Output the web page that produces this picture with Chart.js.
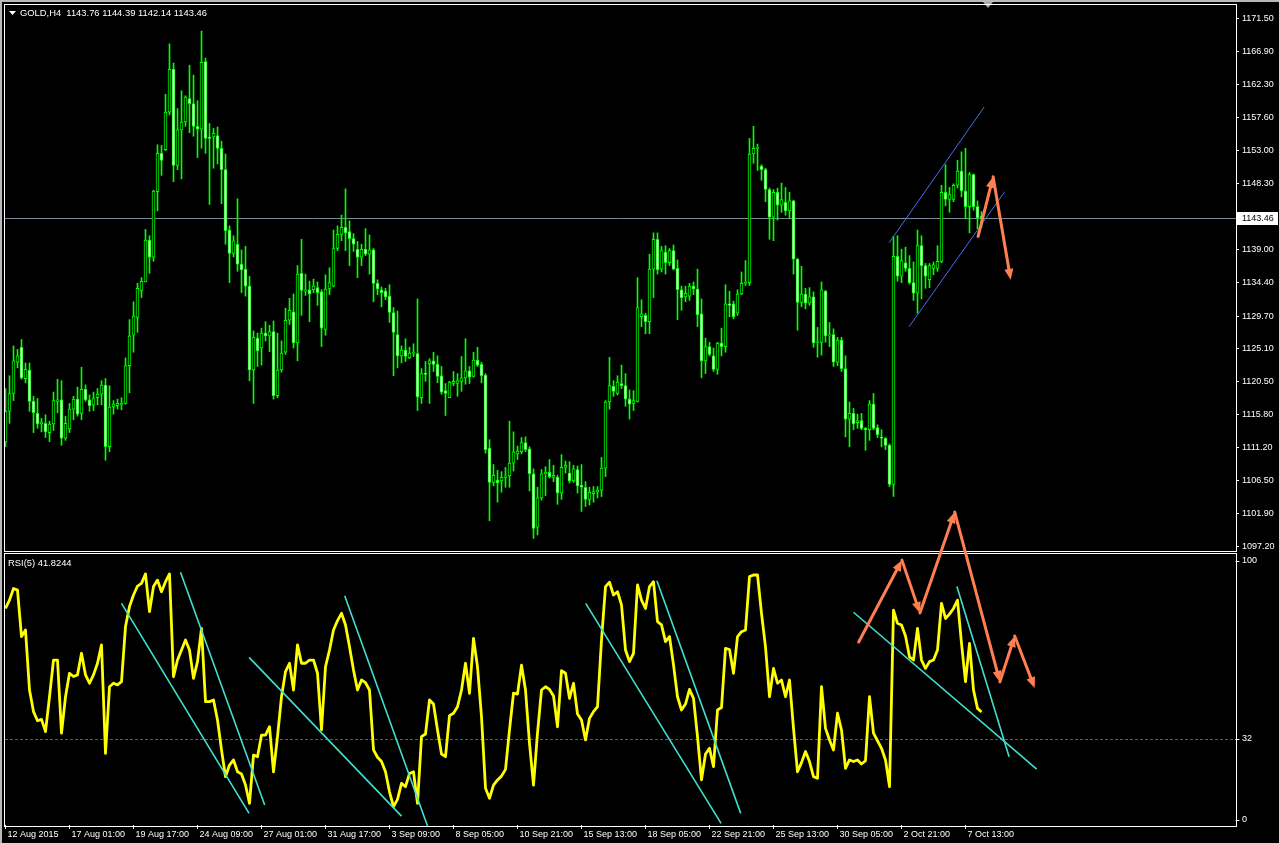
<!DOCTYPE html>
<html>
<head>
<meta charset="utf-8">
<script src="https://cdn.jsdelivr.net/npm/chart.js@4.4.1/dist/chart.umd.min.js"></script>
<style>
  html, body { margin: 0; padding: 0; background: #000; overflow: hidden; }
  #wrap { position: relative; width: 1279px; height: 843px; }
</style>
</head>
<body>
<div id="wrap"><canvas id="chart" width="1279" height="843"></canvas></div>
<script>
// --- DATOS: GOLD H4, 245 velas ---
const openP = [
  1112.0,1116.3,1118.8,1123.2,1125.3,1120.9,1122.1,1117.7,1116.0,1114.5,
  1114.6,1113.3,1114.5,1117.7,1117.9,1112.5,1113.8,1116.6,1118.0,1116.0,
  1119.4,1117.9,1117.2,1118.2,1118.7,1120.0,1111.3,1116.9,1117.1,1117.2,
  1117.4,1122.7,1127.0,1129.5,1133.3,1134.5,1140.4,1138.0,1147.2,1152.6,
  1153.1,1158.4,1164.4,1150.9,1155.9,1157.0,1160.3,1159.6,1156.4,1156.0,
  1165.5,1154.8,1154.9,1155.1,1153.3,1150.3,1141.8,1138.5,1139.8,1137.0,
  1136.3,1133.9,1122.1,1126.6,1125.2,1127.3,1126.9,1127.5,1118.5,1122.1,
  1124.6,1129.1,1130.3,1125.9,1135.7,1133.2,1133.4,1133.4,1133.7,1133.1,
  1127.8,1133.5,1133.9,1139.2,1141.2,1142.2,1141.6,1140.6,1139.1,1138.0,
  1139.1,1138.4,1139.0,1134.3,1133.4,1133.2,1132.5,1130.2,1127.1,1124.1,
  1124.9,1123.8,1124.5,1124.4,1118.2,1121.6,1123.0,1123.4,1122.9,1121.3,
  1119.2,1118.2,1120.2,1120.2,1120.5,1121.0,1122.0,1121.2,1123.5,1122.9,
  1121.4,1111.1,1106.3,1106.6,1106.5,1107.0,1107.2,1109.0,1110.3,1110.6,
  1111.9,1111.0,1107.5,1100.0,1104.1,1107.5,1107.7,1107.0,1107.0,1104.8,
  1108.4,1107.6,1106.5,1108.1,1105.9,1105.6,1103.9,1104.7,1104.9,1105.2,
  1108.3,1117.6,1119.8,1118.8,1120.2,1119.9,1118.0,1117.4,1117.7,1129.6,
  1129.8,1128.9,1136.3,1140.5,1136.3,1138.7,1137.2,1138.9,1136.4,1133.4,
  1132.4,1132.5,1133.9,1133.5,1130.0,1123.4,1125.4,1124.1,1122.2,1125.9,
  1125.4,1131.4,1131.4,1130.1,1132.8,1134.3,1134.4,1152.5,1153.3,1150.8,
  1150.3,1147.5,1143.6,1147.1,1145.3,1145.7,1144.5,1145.9,1137.7,1131.6,
  1132.8,1131.5,1132.4,1125.9,1126.0,1133.2,1126.9,1127.1,1123.2,1126.3,
  1122.3,1115.2,1116.0,1114.7,1115.0,1113.9,1113.7,1117.3,1114.0,1112.6,
  1112.5,1111.5,1106.0,1138.1,1135.3,1137.2,1136.4,1134.4,1132.9,1139.6,
  1136.8,1134.8,1136.4,1136.4,1137.4,1147.1,1146.1,1146.1,1148.1,1150.1,
  1147.3,1145.1,1149.6,1145.1,1143.76
];
const highP = [
  1119.5,1121.3,1125.5,1125.0,1126.4,1123.1,1123.1,1118.4,1118.1,1115.3,
  1115.8,1114.9,1119.0,1120.8,1120.6,1115.6,1117.4,1118.4,1119.7,1122.5,
  1120.0,1118.6,1119.0,1119.5,1120.6,1120.9,1119.9,1117.8,1118.0,1118.2,
  1123.8,1129.2,1131.7,1134.3,1135.1,1141.9,1141.0,1147.4,1153.8,1153.7,
  1160.9,1168.0,1165.3,1158.9,1161.4,1160.7,1165.0,1163.6,1160.0,1169.8,
  1166.0,1156.8,1156.1,1156.3,1154.3,1152.5,1142.4,1141.0,1146.2,1139.0,
  1139.5,1135.3,1127.6,1127.3,1128.0,1128.9,1128.4,1129.0,1127.3,1126.2,
  1130.8,1132.2,1132.8,1136.8,1140.5,1135.6,1134.6,1134.9,1134.5,1133.4,
  1135.5,1136.5,1141.8,1142.4,1143.9,1147.6,1143.1,1141.3,1140.2,1139.8,
  1142.0,1141.1,1139.2,1134.8,1133.8,1133.6,1134.1,1130.9,1130.4,1125.5,
  1126.5,1125.3,1125.8,1132.1,1122.3,1123.3,1123.7,1124.6,1124.1,1122.6,
  1120.2,1120.5,1121.9,1121.6,1124.0,1126.5,1122.6,1124.6,1125.3,1123.2,
  1121.6,1112.3,1108.8,1108.0,1107.8,1108.4,1114.9,1113.4,1111.4,1112.6,
  1112.7,1111.3,1108.2,1105.6,1108.1,1108.5,1109.5,1108.7,1107.3,1110.2,
  1109.3,1109.2,1108.7,1108.6,1108.8,1106.4,1105.6,1105.7,1105.7,1109.8,
  1117.8,1123.9,1120.6,1121.3,1122.8,1121.6,1119.3,1119.2,1135.1,1132.0,
  1130.1,1138.4,1141.4,1141.4,1139.5,1139.6,1139.2,1139.7,1137.6,1133.9,
  1133.9,1134.3,1134.5,1136.3,1132.1,1126.6,1126.0,1125.2,1126.0,1128.0,
  1134.1,1133.2,1131.8,1133.4,1135.9,1137.5,1154.7,1156.4,1153.9,1151.0,
  1150.5,1147.7,1147.5,1147.7,1148.4,1147.8,1147.1,1146.0,1137.8,1136.7,
  1133.6,1133.7,1133.1,1128.1,1134.5,1133.3,1128.8,1127.9,1126.7,1126.7,
  1124.1,1117.6,1116.7,1115.9,1116.0,1114.0,1117.8,1118.8,1114.4,1113.7,
  1112.6,1111.7,1140.9,1141.0,1139.1,1139.4,1138.2,1137.3,1141.8,1141.0,
  1137.1,1137.1,1137.3,1139.6,1148.1,1151.0,1147.8,1148.3,1151.6,1152.8,
  1153.3,1149.9,1149.7,1145.9,1144.39
];
const lowP = [
  1111.3,1114.6,1117.8,1122.4,1120.8,1120.3,1116.3,1113.3,1113.9,1113.4,
  1112.6,1112.0,1113.6,1116.1,1111.5,1112.2,1113.3,1115.1,1115.6,1115.1,
  1117.7,1116.3,1116.4,1117.2,1117.2,1109.4,1110.6,1115.9,1116.6,1116.5,
  1117.3,1118.9,1124.6,1127.4,1132.3,1134.5,1135.7,1137.4,1144.5,1149.5,
  1153.0,1158.0,1148.6,1150.3,1149.0,1156.4,1155.5,1155.0,1152.0,1153.3,
  1152.6,1145.4,1150.5,1151.1,1145.5,1139.8,1134.4,1138.0,1136.0,1133.0,
  1132.5,1120.6,1117.4,1122.6,1122.8,1126.2,1124.7,1118.0,1118.2,1121.8,
  1124.3,1128.5,1125.2,1123.4,1129.8,1132.6,1128.9,1133.0,1131.2,1125.4,
  1127.0,1132.7,1133.8,1138.9,1140.3,1138.9,1136.8,1138.8,1135.1,1136.8,
  1138.2,1135.6,1131.7,1132.7,1131.0,1132.0,1128.8,1121.3,1122.4,1123.1,
  1123.3,1123.7,1124.0,1116.4,1117.4,1120.5,1117.4,1121.9,1120.3,1118.7,
  1115.7,1118.2,1119.9,1118.4,1119.1,1120.1,1120.2,1121.1,1122.6,1120.3,
  1110.4,1100.9,1105.8,1103.5,1104.9,1105.6,1105.6,1107.9,1109.5,1110.3,
  1110.6,1105.1,1098.4,1098.9,1103.8,1104.4,1106.9,1106.4,1103.2,1103.9,
  1107.6,1106.2,1106.3,1104.8,1102.2,1102.9,1103.1,1103.5,1104.1,1104.3,
  1107.1,1116.6,1118.4,1118.6,1119.5,1117.0,1115.2,1116.4,1117.6,1128.2,
  1127.2,1127.2,1132.3,1135.6,1135.9,1135.6,1136.8,1136.2,1129.2,1130.5,
  1131.7,1131.9,1132.7,1128.2,1121.0,1121.6,1124.1,1121.9,1121.5,1124.1,
  1124.6,1129.6,1129.3,1129.8,1132.7,1134.0,1134.0,1151.2,1150.2,1148.8,
  1145.8,1140.5,1140.3,1143.2,1144.3,1143.9,1143.4,1135.6,1127.7,1131.0,
  1130.7,1131.2,1125.3,1123.9,1124.2,1126.0,1125.4,1122.6,1122.7,1121.9,
  1112.7,1111.3,1113.7,1113.9,1113.7,1110.8,1112.2,1113.7,1112.6,1111.3,
  1110.9,1105.7,1104.3,1134.6,1134.4,1136.0,1134.2,1131.9,1130.1,1132.1,
  1133.6,1133.7,1135.5,1136.0,1137.2,1145.2,1144.3,1145.8,1147.7,1146.5,
  1143.4,1141.4,1144.6,1142.0,1142.14
];
const closeP = [
  1116.3,1118.8,1123.4,1124.1,1121.0,1122.2,1117.7,1116.1,1114.5,1114.8,
  1113.4,1114.5,1117.8,1117.9,1112.5,1114.6,1116.6,1118.0,1115.9,1119.4,
  1117.9,1117.1,1118.1,1118.7,1120.0,1111.3,1116.9,1117.3,1117.4,1117.4,
  1122.7,1126.9,1129.7,1133.6,1134.6,1140.4,1138.0,1147.3,1152.6,1151.6,
  1158.4,1164.4,1150.9,1155.9,1157.0,1160.5,1159.6,1156.4,1156.0,1165.4,
  1154.7,1154.7,1155.4,1153.3,1150.3,1141.7,1138.5,1140.3,1137.0,1136.2,
  1133.9,1122.1,1126.7,1124.8,1127.3,1126.9,1127.5,1118.5,1122.1,1124.5,
  1129.1,1130.5,1125.9,1135.6,1133.3,1133.4,1132.8,1133.9,1133.0,1128.0,
  1133.5,1134.4,1139.2,1141.2,1142.2,1141.4,1140.6,1139.8,1138.0,1139.1,
  1138.4,1139.0,1134.3,1133.5,1133.0,1132.4,1130.2,1127.4,1124.1,1124.9,
  1124.0,1124.5,1124.6,1118.3,1121.6,1121.5,1123.4,1122.9,1121.2,1119.0,
  1118.8,1120.4,1120.5,1120.6,1121.0,1122.0,1121.1,1123.5,1122.8,1121.3,
  1110.9,1106.3,1107.3,1106.2,1107.0,1107.2,1109.0,1110.6,1110.7,1111.9,
  1110.9,1107.5,1099.8,1104.1,1107.5,1107.7,1107.1,1107.3,1104.8,1108.4,
  1108.7,1106.5,1108.2,1105.8,1105.6,1103.9,1104.9,1105.0,1105.2,1108.3,
  1117.6,1119.9,1119.1,1120.4,1119.9,1118.0,1117.3,1117.8,1130.9,1130.0,
  1128.9,1136.3,1140.5,1136.2,1138.9,1137.2,1138.9,1136.3,1133.4,1132.3,
  1132.9,1133.9,1133.5,1129.9,1123.4,1125.4,1124.3,1122.2,1125.9,1125.4,
  1131.4,1131.2,1129.6,1132.8,1134.3,1134.4,1152.5,1153.3,1153.4,1150.3,
  1147.5,1143.6,1147.1,1145.3,1146.1,1144.5,1145.9,1137.7,1131.6,1132.8,
  1131.5,1132.4,1125.9,1126.0,1133.4,1126.9,1127.0,1123.2,1126.3,1122.3,
  1115.2,1116.0,1114.5,1115.0,1113.9,1113.7,1117.3,1113.9,1113.0,1112.5,
  1111.5,1106.0,1138.1,1135.3,1137.5,1136.4,1134.4,1132.9,1139.6,1136.8,
  1135.3,1136.8,1136.9,1137.4,1147.1,1146.1,1146.8,1148.1,1150.1,1147.3,
  1145.1,1149.6,1145.1,1143.5,1143.46
];
const rsi5 = [
  80.2,83.3,87.6,87.0,69.8,72.2,50.0,42.0,38.6,39.1,
  34.6,47.5,61.1,61.1,34.0,47.5,56.2,55.0,55.6,63.6,
  55.6,52.5,55.6,59.9,66.7,26.5,51.2,52.5,51.9,53.1,
  73.5,80.9,85.2,88.5,89.5,93.0,79.0,88.3,90.7,86.4,
  90.1,93.0,54.9,61.1,64.8,68.5,64.8,54.3,60.5,72.8,
  45.7,45.7,46.3,38.9,27.8,17.9,22.2,24.1,19.7,18.9,
  14.8,8.0,25.9,25.3,33.3,33.3,36.4,19.7,32.7,47.5,
  56.8,59.9,50.0,66.7,59.9,59.9,61.1,61.1,56.2,35.2,
  58.6,64.8,72.2,75.7,78.4,74.1,66.0,57.4,50.0,53.7,
  52.7,50.0,27.8,25.1,23.5,19.7,12.3,6.8,9.5,15.4,
  14.2,19.1,19.7,8.0,32.7,33.7,46.3,44.8,35.2,26.3,
  25.3,40.5,41.4,43.8,50.0,59.9,48.8,69.1,58.6,40.1,
  13.6,9.9,14.8,16.7,18.1,20.6,35.2,48.8,48.5,59.2,
  50.0,30.2,14.8,34.0,50.0,51.2,50.2,47.8,36.4,57.2,
  56.2,46.9,52.5,41.1,38.9,31.5,39.5,42.0,43.8,68.5,
  88.3,89.9,85.2,86.4,81.5,64.8,60.5,63.6,88.9,83.3,
  80.2,88.3,90.1,75.3,74.1,67.9,69.8,59.3,47.5,42.6,
  44.8,50.2,46.9,32.7,16.7,26.3,28.4,21.6,42.6,43.5,
  65.4,65.0,56.2,69.8,71.6,72.2,92.0,92.6,92.6,78.4,
  66.0,47.5,58.0,52.5,53.7,47.5,53.7,35.8,19.7,23.1,
  27.2,23.5,17.9,17.3,51.2,35.8,31.5,27.8,41.4,35.2,
  21.0,24.1,23.5,24.1,22.6,23.8,47.5,34.0,31.2,28.4,
  24.1,14.2,79.6,74.7,74.1,70.0,62.3,61.1,72.8,61.1,
  58.0,60.5,61.1,64.8,82.1,76.5,78.1,80.2,83.3,67.3,
  53.1,67.3,50.0,43.2,41.82
];

// etiquetas del eje de tiempo (cada 16 barras) y del eje de precios
const axisBars = [0, 16, 32, 48, 64, 80, 96, 112, 128, 144, 160, 176, 192, 208, 224, 240];
const axisLabels = ['12 Aug 2015', '17 Aug 01:00', '19 Aug 17:00', '24 Aug 09:00', '27 Aug 01:00',
  '31 Aug 17:00', '3 Sep 09:00', '8 Sep 05:00', '10 Sep 21:00', '15 Sep 13:00', '18 Sep 05:00',
  '22 Sep 21:00', '25 Sep 13:00', '30 Sep 05:00', '2 Oct 21:00', '7 Oct 13:00'];
const priceTicks = [1171.50, 1166.90, 1162.30, 1157.60, 1153.00, 1148.30, 1139.00, 1134.40,
  1129.70, 1125.10, 1120.50, 1115.80, 1111.20, 1106.50, 1101.90, 1097.20];
const rsiTicks = [100, 32, 0];
const lastPrice = 1143.46;
const rsiLevel = 32;

// objetos dibujados (barra, valor)
const channelLines = [
  [[220.9, 1140.0], [244.65, 1159.1]],
  [[225.9, 1128.2], [249.8, 1147.2]]
];
const priceArrows = [[243.15, 1140.9], [246.9, 1149.3], [251.3, 1134.8]];
const rsiArrows = [[213.3, 67.8], [224.1, 98.1], [228.6, 78.5], [237.3, 115.9], [248.6, 53.0], [252.3, 70.0], [257.3, 50.7]];
const rsiTrendLines = [
  [[29.0, 82.1], [60.9, 4.3]],
  [[43.75, 93.6], [64.8, 7.4]],
  [[60.9, 62.1], [99.0, 3.3]],
  [[84.8, 84.9], [105.5, -0.4]],
  [[145.05, 82.1], [178.9, 0.6]],
  [[162.85, 90.5], [183.8, 4.3]],
  [[212.0, 78.8], [257.8, 20.7]],
  [[237.85, 88.3], [250.9, 25.3]]
];

const FONT = 'Liberation Sans, Arial, sans-serif';
const LIME = '#00ff00';
const ORANGE = '#ff7f50';

function drawArrow(c, x1, y1, x2, y2) {
  const a = Math.atan2(y2 - y1, x2 - x1);
  const len = 11, half = 4.5;
  c.beginPath();
  c.moveTo(x1, y1);
  c.lineTo(x2 - 6 * Math.cos(a), y2 - 6 * Math.sin(a));
  c.stroke();
  c.beginPath();
  c.moveTo(x2, y2);
  c.lineTo(x2 - len * Math.cos(a) + half * Math.sin(a), y2 - len * Math.sin(a) - half * Math.cos(a));
  c.lineTo(x2 - len * Math.cos(a) - half * Math.sin(a), y2 - len * Math.sin(a) + half * Math.cos(a));
  c.closePath();
  c.fill();
}

// quitar el relleno que Chart.js reserva para media etiqueta
function noPad(s) {
  s.paddingTop = 0; s.paddingBottom = 0; s.paddingLeft = 0; s.paddingRight = 0;
}

const mt4Plugin = {
  id: 'mt4',
  beforeDraw(chart) {
    const c = chart.ctx;
    c.save();
    c.fillStyle = '#000';
    c.fillRect(0, 0, chart.width, chart.height);
    c.restore();
  },
  beforeDatasetsDraw(chart) {
    const c = chart.ctx, a = chart.chartArea;
    const ys = chart.scales.y, rs = chart.scales.rsi;
    c.save();
    // linea de precio actual
    const py = Math.round(ys.getPixelForValue(lastPrice)) + 0.5;
    c.strokeStyle = '#778899';
    c.lineWidth = 1;
    c.beginPath(); c.moveTo(a.left, py); c.lineTo(a.right, py); c.stroke();
    // nivel 32 del RSI
    const ly = Math.round(rs.getPixelForValue(rsiLevel)) + 0.5;
    c.strokeStyle = '#a030a0';
    c.setLineDash([3, 2]);
    c.beginPath(); c.moveTo(a.left, ly); c.lineTo(a.right, ly); c.stroke();
    c.restore();
  },
  afterDraw(chart) {
    const c = chart.ctx, a = chart.chartArea;
    const xs = chart.scales.x, ys = chart.scales.y, rs = chart.scales.rsi;
    c.save();

    // marco de ventana
    c.fillStyle = '#b8b8b8';
    c.fillRect(0, 0, chart.width, 2);
    c.fillRect(0, 0, 2, chart.height);
    c.fillStyle = '#a0a8b0';
    c.beginPath(); c.moveTo(983, 2); c.lineTo(993, 2); c.lineTo(988, 8); c.closePath(); c.fill();

    // marcos de las subventanas
    const sep = Math.round(ys.bottom);
    c.strokeStyle = '#ffffff';
    c.lineWidth = 1;
    c.strokeRect(a.left - 0.5, a.top - 0.5, a.right - a.left + 1, sep - 1 - a.top + 1);
    c.strokeRect(a.left - 0.5, sep + 1.5, a.right - a.left + 1, a.bottom - sep);

    // canal azul
    c.strokeStyle = '#4a6cf0';
    c.lineWidth = 1;
    channelLines.forEach(([p, q]) => {
      c.beginPath();
      c.moveTo(xs.getPixelForValue(p[0]), ys.getPixelForValue(p[1]));
      c.lineTo(xs.getPixelForValue(q[0]), ys.getPixelForValue(q[1]));
      c.stroke();
    });

    // lineas de tendencia RSI
    c.strokeStyle = '#40e0d0';
    c.lineWidth = 1.6;
    rsiTrendLines.forEach(([p, q]) => {
      c.beginPath();
      c.moveTo(xs.getPixelForValue(p[0]), rs.getPixelForValue(p[1]));
      c.lineTo(xs.getPixelForValue(q[0]), rs.getPixelForValue(q[1]));
      c.stroke();
    });

    // flechas naranjas
    c.strokeStyle = ORANGE;
    c.fillStyle = ORANGE;
    c.lineWidth = 3;
    c.lineCap = 'round';
    for (let i = 1; i < priceArrows.length; i++) {
      drawArrow(c, xs.getPixelForValue(priceArrows[i - 1][0]), ys.getPixelForValue(priceArrows[i - 1][1]),
        xs.getPixelForValue(priceArrows[i][0]), ys.getPixelForValue(priceArrows[i][1]));
    }
    for (let i = 1; i < rsiArrows.length; i++) {
      drawArrow(c, xs.getPixelForValue(rsiArrows[i - 1][0]), rs.getPixelForValue(rsiArrows[i - 1][1]),
        xs.getPixelForValue(rsiArrows[i][0]), rs.getPixelForValue(rsiArrows[i][1]));
    }

    // caja de precio actual
    const py = Math.round(ys.getPixelForValue(lastPrice));
    c.fillStyle = '#ffffff';
    c.fillRect(a.right + 1, py - 6, 41, 13);
    c.fillStyle = '#000000';
    c.font = '9px ' + FONT;
    c.textBaseline = 'middle';
    c.textAlign = 'left';
    c.fillText(lastPrice.toFixed(2), a.right + 6, py + 0.5);

    // etiquetas RSI
    c.fillStyle = '#ffffff';
    c.strokeStyle = '#ffffff';
    c.lineWidth = 1;
    rsiTicks.forEach(v => {
      let y = rs.getPixelForValue(v);
      if (v === 100) y += 6;
      if (v === 0) y -= 5;
      c.fillText(String(v), a.right + 6, y);
      c.beginPath(); c.moveTo(a.right, Math.round(y) + 0.5); c.lineTo(a.right + 3, Math.round(y) + 0.5); c.stroke();
    });

    // encabezados
    c.font = '9.4px ' + FONT;
    c.beginPath(); c.moveTo(9, 11); c.lineTo(16, 11); c.lineTo(12.5, 15); c.closePath(); c.fill();
    c.fillText('GOLD,H4  1143.76 1144.39 1142.14 1143.46', 20, 13.5);
    c.fillText('RSI(5) 41.8244', 8, 563);
    c.restore();
  }
};

const bars = closeP.map((v, i) => i);

new Chart(document.getElementById('chart'), {
  type: 'bar',
  data: {
    datasets: [
      {
        type: 'line',
        label: 'RSI(5)',
        yAxisID: 'rsi',
        data: rsi5.map((v, i) => ({ x: i, y: v })),
        borderColor: '#ffff00',
        borderWidth: 2.8,
        pointRadius: 0,
        tension: 0,
        borderJoinStyle: 'round',
        order: 0
      },
      {
        label: 'body',
        yAxisID: 'y',
        data: bars.map(i => ({ x: i, y: [openP[i], closeP[i]] })),
        backgroundColor: ctx => closeP[ctx.dataIndex] >= openP[ctx.dataIndex] ? '#000000' : '#ffffff',
        borderColor: LIME,
        borderWidth: 1,
        borderSkipped: false,
        barThickness: 3,
        minBarLength: 1,
        grouped: false,
        order: 1
      },
      {
        label: 'wick',
        yAxisID: 'y',
        data: bars.map(i => ({ x: i, y: [lowP[i], highP[i]] })),
        backgroundColor: LIME,
        borderWidth: 0,
        barThickness: 1,
        grouped: false,
        order: 2
      }
    ]
  },
  options: {
    responsive: false,
    devicePixelRatio: 1,
    animation: false,
    layout: { padding: { left: 5, top: 5, right: 0, bottom: 0 } },
    plugins: { legend: { display: false }, tooltip: { enabled: false } },
    scales: {
      x: {
        type: 'linear',
        min: -0.125,
        max: 307.625,
        offset: false,
        grid: { display: true, drawOnChartArea: false, offset: false, tickLength: 4, color: '#ffffff' },
        border: { display: false },
        ticks: {
          autoSkip: false, maxRotation: 0, align: 'start', color: '#ffffff', padding: 0, labelOffset: 2,
          font: { family: FONT, size: 9 },
          callback: v => { const k = axisBars.indexOf(v); return k >= 0 ? axisLabels[k] : ''; }
        },
        afterBuildTicks: s => { s.ticks = axisBars.map(v => ({ value: v })); },
        afterFit: s => { s.height = 18; noPad(s); }
      },
      y: {
        type: 'linear',
        position: 'right',
        stack: 'panes',
        stackWeight: 547,
        min: 1096.493,
        max: 1173.470,
        grid: { drawOnChartArea: false, tickLength: 3, color: '#ffffff' },
        border: { display: false },
        ticks: { color: '#ffffff', padding: 3, autoSkip: false, font: { family: FONT, size: 9 }, callback: v => v.toFixed(2) },
        afterBuildTicks: s => { s.ticks = priceTicks.map(v => ({ value: v })); },
        afterFit: s => { s.width = 43; noPad(s); }
      },
      rsi: {
        type: 'linear',
        position: 'right',
        stack: 'panes',
        stackWeight: 273,
        min: 0,
        max: 101.11,
        grid: { display: false },
        border: { display: false },
        ticks: { display: false },
        afterFit: s => { s.width = 43; noPad(s); }
      }
    }
  },
  plugins: [mt4Plugin]
});
</script>
</body>
</html>
